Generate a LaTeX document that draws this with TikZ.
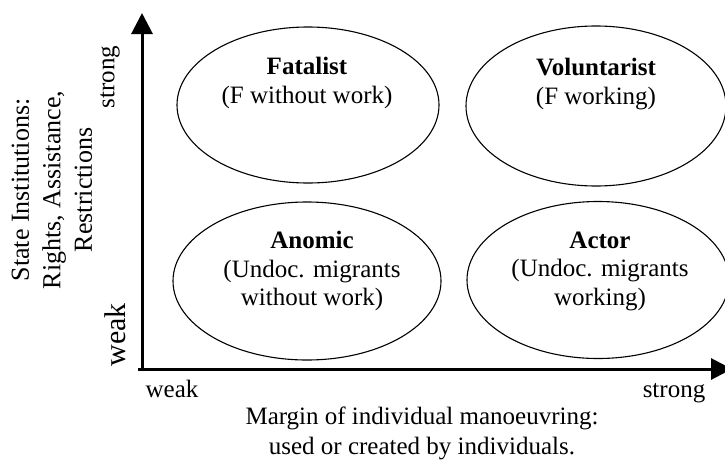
\documentclass[tikz,border=0pt]{standalone}
\usepackage{fontspec}
\setmainfont{Liberation Serif}
\usetikzlibrary{arrows.meta,shapes.geometric}
\begin{document}
\begin{tikzpicture}[x=1pt,y=-1pt,
  ell/.style={draw,ellipse,line width=1.1pt,inner sep=0pt},
  txt/.style={align=center,inner sep=0pt,font=\fontsize{25}{28.5}\selectfont},
  axlbl/.style={inner sep=0pt,font=\fontsize{25}{30}\selectfont},
  axis/.style={line width=3pt,-{Triangle[length=21pt,width=21pt]}}]
\useasboundingbox (0,0) rectangle (725,463);
% axes
\coordinate (orig) at (142,369);
\coordinate (xstart) at (138,369);
\coordinate (ytip) at (142,13);
\coordinate (xtip) at (732,369);
\draw[axis] (orig) -- (ytip);
\draw[axis] (xstart) -- (xtip);
% ellipses
\node[ell,minimum width=262pt,minimum height=156pt] (fat) at (308,105) {};
\node[ell,minimum width=260pt,minimum height=160pt] (vol) at (596,106) {};
\node[ell,minimum width=268pt,minimum height=158pt] (ano) at (307,281) {};
\node[ell,minimum width=262pt,minimum height=157pt] (act) at (598,280) {};
% ellipse texts
\node[txt] (tfat) at (307,83) {\textbf{Fatalist}\\(F without work)};
\node[txt] (tvol) at (596,84) {\textbf{Voluntarist}\\(F working)};
\node[txt] (tano) at (312,271) {\textbf{Anomic}\\(Undoc. migrants\\without work)};
\node[txt] (tact) at (600,271) {\textbf{Actor}\\(Undoc. migrants\\working)};
% axis labels
\node[axlbl,anchor=base] (xweak) at (172,397) {weak};
\node[axlbl,anchor=base] (xstrong) at (674,397) {strong};
\node[axlbl,align=center,font=\fontsize{25}{30}\selectfont] (xlab) at (422,433) {Margin of individual manoeuvring:\\used or created by individuals.};
\node[axlbl,rotate=90] (ystrong) at (110,77) {strong};
\node[axlbl,rotate=90,font=\fontsize{30}{34}\selectfont] (yweak) at (115,335) {weak};
\node[axlbl,rotate=90,align=center,font=\fontsize{26}{31.5}\selectfont] (ylab) at (52,190) {State Institutions:\\Rights, Assistance,\\Restrictions};
\end{tikzpicture}
\end{document}
